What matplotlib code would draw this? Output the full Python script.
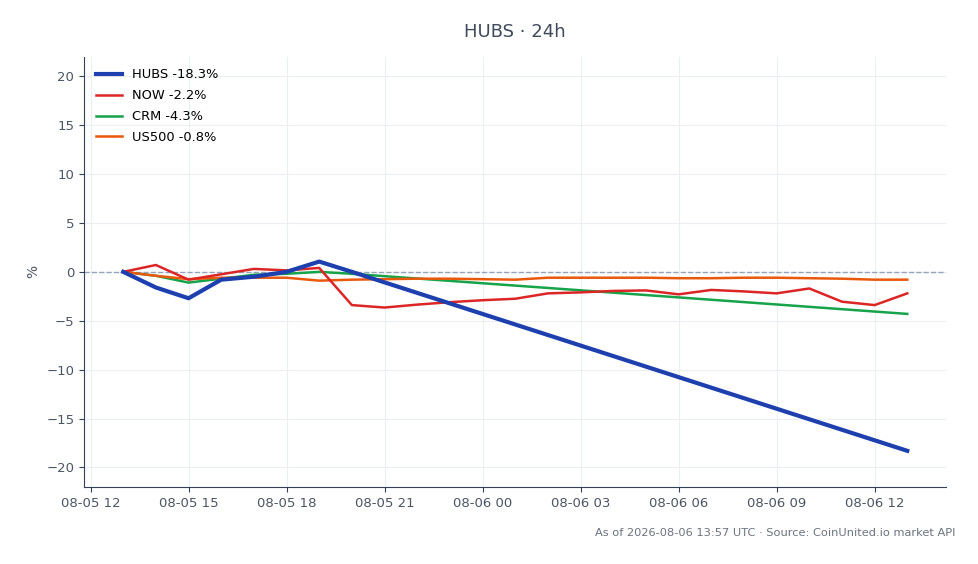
import numpy as np
import pandas as pd
import matplotlib
matplotlib.use("Agg")
from matplotlib import pyplot as plt
import matplotlib.dates as mdates

# hourly timestamps, 08-05 13:00 -> 08-06 13:00
times = pd.date_range("2026-08-05 13:00", "2026-08-06 13:00", freq="h")

# HUBS only has points up to 20:00 and the last one
hubs_times = list(times[:8]) + [times[-1]]
hubs = [0, -1.6, -2.7, -0.8, -0.5, 0.0, 1.05, 0.0, -18.3]

now = [0, 0.7, -0.8, -0.25, 0.3, 0.15, 0.4, -3.4, -3.65, -3.35, -3.1, -2.9, -2.75,
       -2.2, -2.1, -1.95, -1.9, -2.3, -1.85, -2.0, -2.2, -1.7, -3.05, -3.4, -2.2]

crm_times = list(times[:8]) + [times[-1]]
crm = [0, -0.4, -1.1, -0.7, -0.3, -0.2, 0.0, -0.2, -4.3]

us500 = [0, -0.4, -0.75, -0.6, -0.6, -0.6, -0.9, -0.8, -0.75, -0.7, -0.7, -0.75, -0.8,
         -0.6, -0.6, -0.6, -0.6, -0.65, -0.65, -0.6, -0.6, -0.65, -0.7, -0.8, -0.8]

labels = ["HUBS -18.3%", "NOW -2.2%", "CRM -4.3%", "US500 -0.8%"]

fig = plt.figure(figsize=(9.79, 5.64), dpi=100)
ax = fig.add_axes([0.0858, 0.1365, 0.881, 0.763])

ax.axhline(0, color="#94a3b8", lw=1, ls="--", zorder=1)
ax.plot(hubs_times, hubs, color="#1e40af", lw=3, label=labels[0], zorder=5)
ax.plot(times, now, color="#dc2626", lw=1.8, label=labels[1], zorder=4)
ax.plot(crm_times, crm, color="#16a34a", lw=1.8, label=labels[2], zorder=3)
ax.plot(times, us500, color="#ea580c", lw=1.8, label=labels[3], zorder=3)

ax.set_ylim(-22, 22)
ax.xaxis.set_major_locator(mdates.HourLocator(byhour=range(0, 24, 3)))
ax.xaxis.set_major_formatter(mdates.DateFormatter("%m-%d %H"))

ax.grid(True, color="#eceef2", lw=0.8)
ax.set_axisbelow(True)
for s in ["top", "right"]:
    ax.spines[s].set_visible(False)
for s in ["left", "bottom"]:
    ax.spines[s].set_color("#334155")
ax.tick_params(colors="#4b5563", labelsize=9.5)
ax.tick_params(axis="both", color="#334155")

ax.set_ylabel("%", color="#4b5563", fontsize=10)
ax.set_title("HUBS · 24h", color="#3f4a5a", fontsize=13, pad=14)
ax.legend(loc="upper left", frameon=False, fontsize=9.4, labelspacing=0.6)

fig.text(0.976, 0.055, "As of 2026-08-06 13:57 UTC · Source: CoinUnited.io market API",
         ha="right", va="center", fontsize=8.2, color="#6b7280")

plt.savefig("out.png", dpi=100)
